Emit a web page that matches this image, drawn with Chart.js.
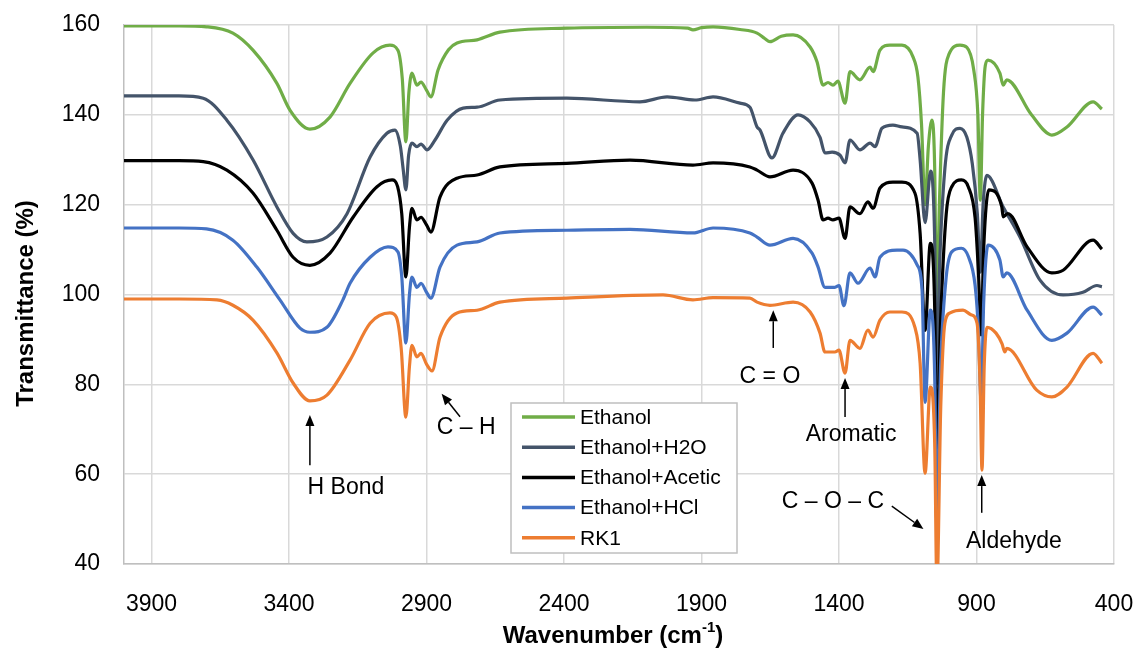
<!DOCTYPE html>
<html>
<head>
<meta charset="utf-8">
<script src="https://cdn.jsdelivr.net/npm/chart.js@4.4.0/dist/chart.umd.min.js"></script>
<style>
  html, body { margin: 0; padding: 0; background: #fff; }
</style>
</head>
<body>
<canvas id="ftirChart" width="1138" height="652"></canvas>
<script>
// FTIR spectra (wavenumber cm-1 -> transmittance %)
const ethanolWn = [4000,3800,3700,3604,3531,3444,3396,3324,3251,3178,3094,3033,3004,2988,2975,2964,2953,2935,2920,2900,2884,2858,2820,2789,2716,2633,2390,2100,1950,1931,1900,1858,1760,1698,1670,1651,1610,1567,1505,1480,1458,1440,1422,1404,1378,1360,1324,1287,1276,1251,1215,1171,1131,1113,1100,1087,1075,1062,1052,1045,1035,1020,1000,960,935,910,895,886,878,868,858,815,803,790,700,626,571,476,444];
const ethanolT = [159.8,159.8,159.6,158.2,154.4,147,141,136.8,139.5,147,153.8,155.5,154.4,148,134,145,149.3,146.6,147.3,145.5,144,150,154.5,156,156.7,158.4,159.3,159.5,159.3,158.9,159.4,159.6,159,158.2,157,156.3,157.5,157.8,155.1,151.8,146.6,147.2,146.6,147.5,142.6,149.6,147.8,150.6,149.6,154.4,155.5,155.5,152.9,148.4,138,120,133,138.8,128,95,120,145,153.5,155.5,155,150,140,121,140,151,152.2,149.3,146.6,147.8,140,135.5,137.3,142.9,141.3];

const h2oWn = [4000,3800,3712,3626,3531,3444,3385,3335,3262,3189,3105,3044,3015,2995,2985,2975,2965,2953,2935,2920,2898,2869,2825,2767,2716,2633,2390,2124,2025,1924,1858,1760,1724,1698,1687,1644,1604,1549,1505,1469,1451,1425,1396,1378,1360,1324,1287,1269,1244,1204,1171,1116,1105,1087,1067,1052,1045,1035,1015,990,960,935,915,897,886,876,862,803,742,669,585,513,462,444];
const h2oT = [144.2,144.2,143.7,138.8,130,119.5,113.6,111.7,112.8,118,130.6,135.9,136.6,133,128,123.3,131,133.7,132.9,133.5,132.2,134.4,138.8,141.5,141.7,143.3,143.7,142.9,144,143.3,144,142.6,141.7,137.3,136.6,130.4,135.9,140,138.4,135,131.5,131.7,131,129.3,134.4,132.2,133.7,132.9,137,137.7,137.3,135.9,130,116,127.5,112,80,105,128,135.5,137,135,129,118,105,120,126.5,119.5,112.8,103.2,99.9,100.5,102,101.7];

const aceticWn = [4000,3800,3712,3626,3531,3444,3385,3324,3251,3167,3080,3025,3005,2990,2975,2962,2953,2935,2920,2900,2884,2851,2789,2716,2633,2390,2160,1931,1858,1724,1698,1651,1567,1498,1476,1458,1440,1422,1400,1378,1360,1324,1295,1276,1251,1204,1171,1124,1105,1087,1068,1052,1045,1030,1010,990,955,930,905,893,883,874,855,808,803,786,716,626,585,476,444];
const aceticT = [129.8,129.8,129.6,127.7,122.6,114.3,108.3,106.5,109.2,117.2,124,125.5,124,118,103.9,115,119.2,116.6,117.2,115.5,113.9,121.7,125.9,126.6,128.4,129.2,129.9,128.8,129.3,128.4,127.7,126.2,127.7,124.8,121,116.6,117,116.6,117,112.5,119.5,118,120.6,119.2,123.7,125,125,122.6,113.6,92,111.4,97,65,95,118,124,125.5,124,117,105,91,110,123.3,119.5,117.3,118,110.6,104.8,105.4,112.1,110.1];

const hclWn = [4000,3800,3700,3604,3517,3433,3360,3324,3262,3204,3178,3105,3040,3004,2990,2975,2962,2953,2935,2920,2900,2884,2851,2789,2716,2633,2390,2160,1931,1858,1724,1698,1651,1567,1498,1476,1451,1415,1400,1382,1360,1331,1287,1269,1251,1189,1167,1116,1098,1087,1068,1052,1045,1030,1010,990,955,930,905,893,883,874,858,815,803,790,716,626,571,476,444];
const hclT = [114.8,114.8,114.6,112.1,106.1,98.8,92.5,91.6,92.7,98.8,102.5,108.3,110.6,109.5,104,89.2,100,103.9,101.6,102.5,100.5,99.2,106.1,111,111.7,113.7,114.3,114.5,113.7,114.8,113.7,112.8,111,112.5,109.2,106.1,101.6,101.6,102,97.5,104.8,102.5,105.9,103.9,108.3,109.9,109.9,106.6,101,76,96.5,82,50,85,104,109.5,110.3,108.5,102,92,76,98,111,107.7,103.9,104.8,96.5,89.8,91.4,97.2,95.4];

const rk1Wn = [4000,3800,3662,3604,3531,3444,3385,3324,3262,3178,3105,3033,3010,2992,2975,2962,2953,2935,2920,2900,2880,2851,2789,2716,2633,2390,2040,1931,1858,1724,1698,1651,1567,1505,1469,1451,1415,1400,1378,1360,1324,1295,1276,1251,1215,1171,1124,1105,1087,1068,1052,1044,1030,1015,996,949,920,898,887,880,872,862,829,807,797,790,681,626,571,476,444];
const rk1T = [99,99,98.8,97.6,94.3,87,80.3,76.3,77.6,85.4,93.6,95.9,95,88,72.7,84,88.7,86.1,86.9,84.5,83,90.5,95.9,96.5,98.3,99.2,99.9,98.8,99.3,99.2,98.3,97.6,98.3,96.1,91.4,87.2,87.2,87.6,82.5,89.8,88,92.1,90.5,94.3,96.1,96.1,92.7,84.7,60.2,79.4,67,35,75,93.6,95.9,96.5,95.5,93.6,80,60.9,84,92.7,91.4,89,87.2,88,78.7,77.2,79.4,86.9,84.7];

const seriesNames = ['Ethanol', 'Ethanol+H2O', 'Ethanol+Acetic', 'Ethanol+HCl', 'RK1'];
const seriesColors = ['#70AD47', '#44546A', '#000000', '#4472C4', '#ED7D31'];

const xTicks = [3900, 3400, 2900, 2400, 1900, 1400, 900, 400];
const yTicks = [40, 60, 80, 100, 120, 140, 160];

// peak labels: text position and arrow (from -> to), in data units
const peakNotes = [
  { text: 'H Bond',      tx: 3193, ty: 56.9, from: [3324, 62.0], to: [3324, 73.2] },
  { text: 'C \u2013 H',  tx: 2756, ty: 70.3, from: [2778, 72.8], to: [2845, 77.9] },
  { text: 'C = O',       tx: 1651, ty: 81.6, from: [1639, 88.1], to: [1639, 96.5] },
  { text: 'Aromatic',    tx: 1356, ty: 68.7, from: [1378, 72.7], to: [1378, 81.4] },
  { text: 'C \u2013 O \u2013 C', tx: 1422, ty: 53.8, from: [1208, 52.9], to: [1093, 47.8] },
  { text: 'Aldehyde',    tx: 764,  ty: 44.9, from: [881, 51.4],  to: [881, 59.8] }
];

const FONT = "'Liberation Sans', Arial, sans-serif";
Chart.defaults.font.family = FONT;
Chart.defaults.color = '#000';

function toPoints(wn, t) {
  return wn.map((w, i) => ({ x: w, y: t[i] }));
}

const seriesData = [
  toPoints(ethanolWn, ethanolT),
  toPoints(h2oWn, h2oT),
  toPoints(aceticWn, aceticT),
  toPoints(hclWn, hclT),
  toPoints(rk1Wn, rk1T)
];

const datasets = seriesData.map((pts, i) => ({
  label: seriesNames[i],
  data: pts,
  borderColor: seriesColors[i],
  backgroundColor: seriesColors[i],
  borderWidth: 3.2,
  pointRadius: 0,
  cubicInterpolationMode: 'monotone',
  fill: false,
  order: seriesNames.length - i   // later series drawn on top
}));

// tick label overhang would shrink the plot; layout.padding handles the room instead
function noOverhang(scale) {
  scale.paddingTop = 0;
  scale.paddingBottom = 0;
  scale.paddingLeft = 0;
  scale.paddingRight = 0;
}

function drawArrow(ctx, x1, y1, x2, y2) {
  const ang = Math.atan2(y2 - y1, x2 - x1);
  const len = 11, half = 4.5;
  const bx = x2 - len * Math.cos(ang), by = y2 - len * Math.sin(ang);
  ctx.beginPath();
  ctx.moveTo(x1, y1);
  ctx.lineTo(bx, by);
  ctx.stroke();
  ctx.beginPath();
  ctx.moveTo(x2, y2);
  ctx.lineTo(bx + half * Math.sin(ang), by - half * Math.cos(ang));
  ctx.lineTo(bx - half * Math.sin(ang), by + half * Math.cos(ang));
  ctx.closePath();
  ctx.fill();
}

const extrasPlugin = {
  id: 'extras',
  afterDraw(chart) {
    const ctx = chart.ctx;
    const xs = chart.scales.x, ys = chart.scales.y;
    const area = chart.chartArea;

    // peak annotations
    ctx.save();
    ctx.fillStyle = '#000';
    ctx.strokeStyle = '#000';
    ctx.lineWidth = 1.5;
    ctx.font = '23px ' + FONT;
    ctx.textAlign = 'center';
    ctx.textBaseline = 'middle';
    peakNotes.forEach(n => {
      ctx.fillText(n.text, xs.getPixelForValue(n.tx), ys.getPixelForValue(n.ty));
      drawArrow(ctx,
        xs.getPixelForValue(n.from[0]), ys.getPixelForValue(n.from[1]),
        xs.getPixelForValue(n.to[0]), ys.getPixelForValue(n.to[1]));
    });
    ctx.restore();

    // legend box
    const box = { left: 511, top: 403, width: 226, height: 150 };
    ctx.save();
    ctx.fillStyle = '#fff';
    ctx.fillRect(box.left, box.top, box.width, box.height);
    ctx.strokeStyle = '#BFBFBF';
    ctx.lineWidth = 1.5;
    ctx.strokeRect(box.left, box.top, box.width, box.height);
    ctx.font = '21px ' + FONT;
    ctx.textAlign = 'left';
    ctx.textBaseline = 'middle';
    chart.data.datasets.forEach((ds, i) => {
      const y = box.top + 14 + i * 30.2;
      ctx.strokeStyle = ds.borderColor;
      ctx.lineWidth = 3.5;
      ctx.beginPath();
      ctx.moveTo(box.left + 11, y);
      ctx.lineTo(box.left + 64, y);
      ctx.stroke();
      ctx.fillStyle = '#000';
      ctx.fillText(ds.label, box.left + 69, y + 1);
    });
    ctx.restore();

    // axis titles
    ctx.save();
    ctx.fillStyle = '#000';
    ctx.font = 'bold 24px ' + FONT;
    ctx.textBaseline = 'middle';
    ctx.textAlign = 'center';
    ctx.translate(26, (area.top + area.bottom) / 2 + 9);
    ctx.rotate(-Math.PI / 2);
    ctx.fillText('Transmittance (%)', 0, 0);
    ctx.restore();

    ctx.save();
    ctx.fillStyle = '#000';
    ctx.textBaseline = 'middle';
    ctx.textAlign = 'left';
    const mainFont = 'bold 24px ' + FONT, supFont = 'bold 15px ' + FONT;
    ctx.font = mainFont;
    const w1 = ctx.measureText('Wavenumber (cm').width;
    const w3 = ctx.measureText(')').width;
    ctx.font = supFont;
    const w2 = ctx.measureText('-1').width;
    let x = (area.left + area.right) / 2 - 6 - (w1 + w2 + w3) / 2;
    const ty = 636;
    ctx.font = mainFont;
    ctx.fillText('Wavenumber (cm', x, ty);
    x += w1;
    ctx.font = supFont;
    ctx.fillText('-1', x, ty - 8);
    x += w2;
    ctx.font = mainFont;
    ctx.fillText(')', x, ty);
    ctx.restore();
  }
};

new Chart(document.getElementById('ftirChart').getContext('2d'), {
  type: 'line',
  data: { datasets: datasets },
  options: {
    responsive: false,
    animation: false,
    // chart area should land on x 124..1114, y 25..564
    layout: { padding: { top: 25, right: 24, left: 0, bottom: 0 } },
    plugins: {
      legend: { display: false },
      tooltip: { enabled: false }
    },
    scales: {
      x: {
        type: 'linear',
        reverse: true,
        min: 400,
        max: 4000,
        afterBuildTicks: (scale) => { scale.ticks = xTicks.map(v => ({ value: v })); },
        afterFit: (scale) => { scale.height = 88; noOverhang(scale); },
        grid: { color: '#D9D9D9', lineWidth: 1.5, drawTicks: false },
        border: { color: '#BFBFBF', width: 1.5 },
        ticks: {
          font: { size: 23 },
          color: '#000',
          padding: 27,
          autoSkip: false,
          maxRotation: 0,
          callback: (v) => String(v)
        }
      },
      y: {
        min: 40,
        max: 160,
        afterBuildTicks: (scale) => { scale.ticks = yTicks.map(v => ({ value: v })); },
        afterFit: (scale) => { scale.width = 124; noOverhang(scale); },
        grid: { color: '#D9D9D9', lineWidth: 1.5, drawTicks: false },
        border: { color: '#BFBFBF', width: 1.5 },
        ticks: {
          font: { size: 23 },
          color: '#000',
          padding: 24,
          callback: (v) => String(v)
        }
      }
    }
  },
  plugins: [extrasPlugin]
});
</script>
</body>
</html>
